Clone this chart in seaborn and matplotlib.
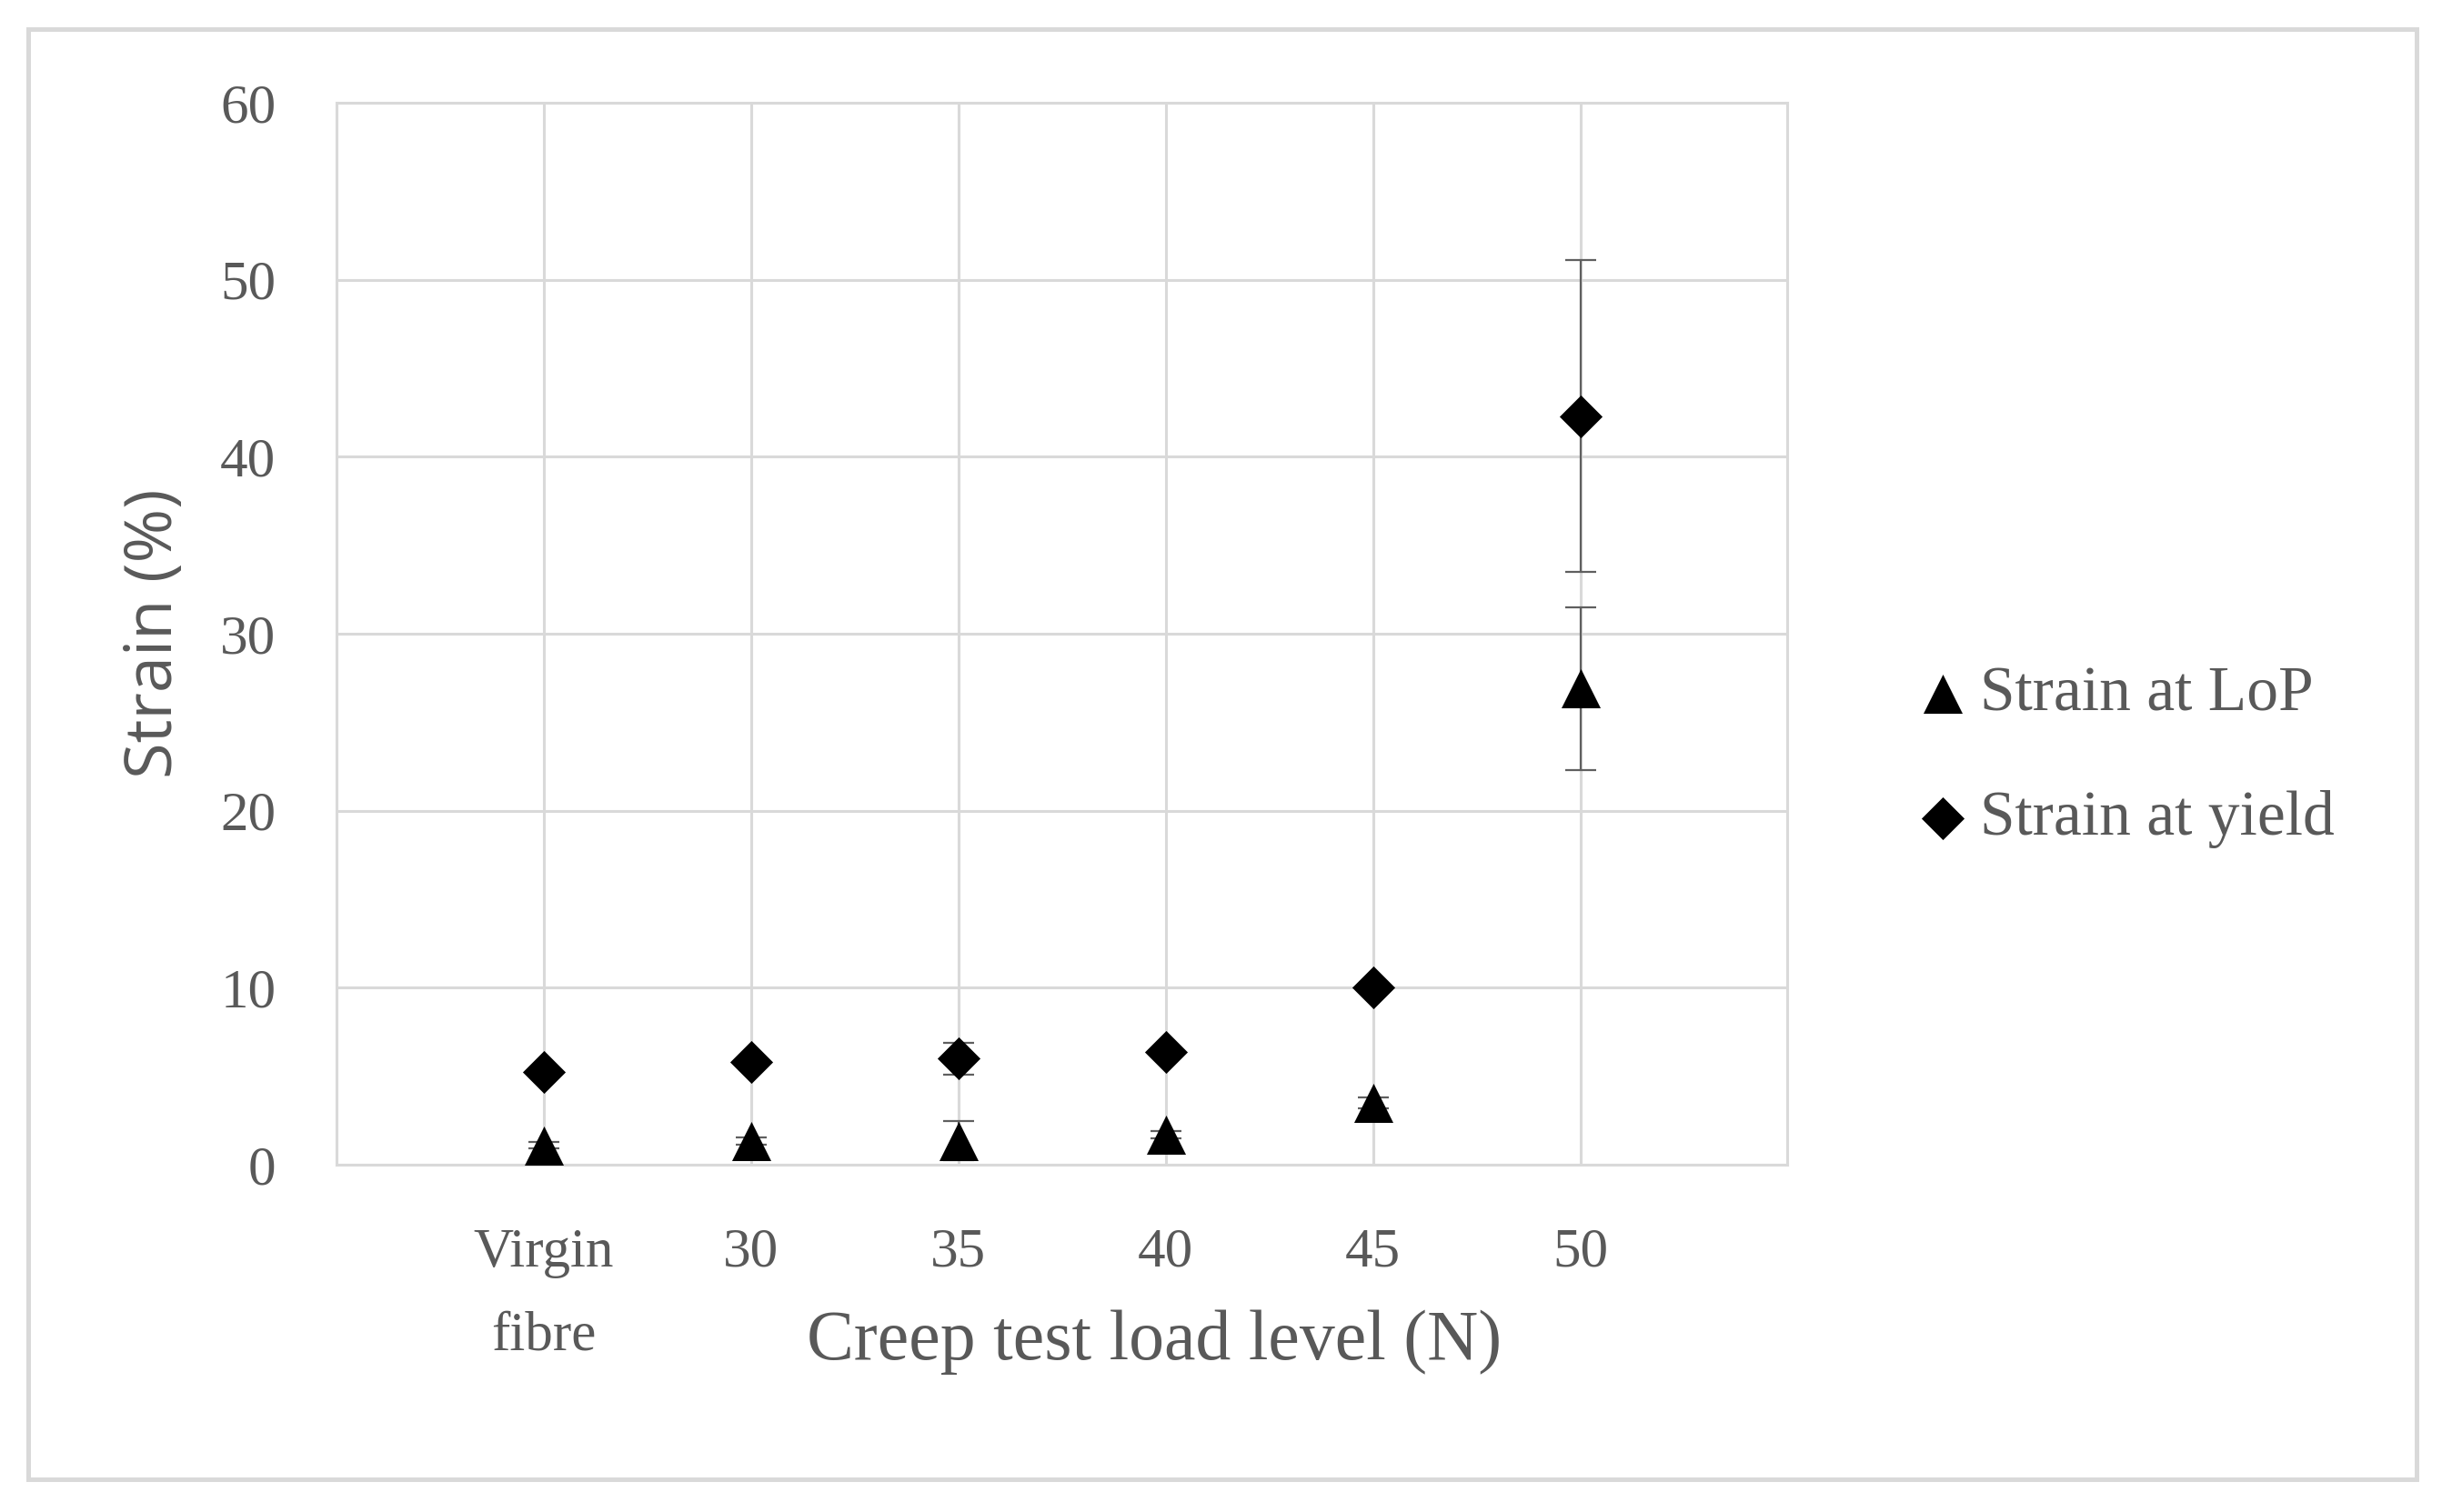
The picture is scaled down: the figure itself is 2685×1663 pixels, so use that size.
import numpy as np
import pandas as pd
import seaborn as sns
import matplotlib.pyplot as plt
from matplotlib.patches import Rectangle

# дані
load_levels = ['Virgin\nfibre', '30', '35', '40', '45', '50']
lop_strain = [1.1, 1.35, 1.35, 1.7, 3.5, 26.9]
lop_err = [0.2, 0.2, 1.1, 0.2, 0.3, 4.6]
yield_strain = [5.25, 5.8, 6.0, 6.35, 10.0, 42.3]
yield_err = [0.1, 0.1, 0.9, 0.1, 0.1, 8.8]

df = pd.DataFrame({'load': load_levels,
                   'lop': lop_strain, 'lop_err': lop_err,
                   'yield': yield_strain, 'yield_err': yield_err})

sns.set_theme(style='whitegrid')
plt.rcParams['font.family'] = ['Liberation Serif', 'DejaVu Serif']

text_col = '#595959'
grid_col = '#d9d9d9'

fig = plt.figure(figsize=(13.425, 8.315), dpi=200)
ax = fig.add_axes([0.1378, 0.2297, 0.5942, 0.7023])

# рамка навколо всього рисунка
fig.patches.append(Rectangle((0.0115, 0.0216), 0.9781, 0.9594, transform=fig.transFigure,
                             fill=False, edgecolor=grid_col, linewidth=1.8))

# похибки
ax.errorbar(df['load'], df['lop'], yerr=df['lop_err'], fmt='none',
            ecolor='#5f5f5f', elinewidth=0.8, capsize=6, capthick=0.8, zorder=3)
ax.errorbar(df['load'], df['yield'], yerr=df['yield_err'], fmt='none',
            ecolor='#5f5f5f', elinewidth=0.8, capsize=6, capthick=0.8, zorder=3)

# точки
sns.scatterplot(data=df, x='load', y='lop', marker='^', s=15.5 ** 2, color='black',
                linewidth=0, label='Strain at LoP', ax=ax, zorder=4)
sns.scatterplot(data=df, x='load', y='yield', marker='D', s=12 ** 2, color='black',
                linewidth=0, label='Strain at yield', ax=ax, zorder=4)

ax.set_xlim(-1, 6)
ax.set_ylim(0, 60)
ax.set_yticks(np.arange(0, 61, 10))

ax.grid(True, color=grid_col, linewidth=1.1)
for sp in ax.spines.values():
    sp.set_color(grid_col)
    sp.set_linewidth(1.1)

ax.tick_params(axis='both', length=0, labelsize=22, labelcolor=text_col)
ax.tick_params(axis='y', pad=24)
ax.tick_params(axis='x', pad=25)
for lbl in ax.get_xticklabels():
    lbl.set_linespacing(1.85)

ax.set_xlabel('Creep test load level (N)', fontsize=28, color=text_col)
ax.xaxis.set_label_coords(0.5636, -0.167)
ax.xaxis.label.set_va('center')
ax.set_ylabel('Strain (%)', fontsize=26, color=text_col, family=['Open Sans', 'DejaVu Sans'])
ax.yaxis.set_label_coords(-0.125, 0.5)
ax.yaxis.label.set_va('center')

leg = ax.legend(loc='center left', bbox_to_anchor=(0.785, 0.499), bbox_transform=fig.transFigure,
                frameon=False, fontsize=25, handlelength=0.8, handletextpad=0.2,
                labelspacing=1.05, borderaxespad=0, borderpad=0)
for t in leg.get_texts():
    t.set_color(text_col)

fig.savefig('out.png', dpi=200, facecolor='white')
